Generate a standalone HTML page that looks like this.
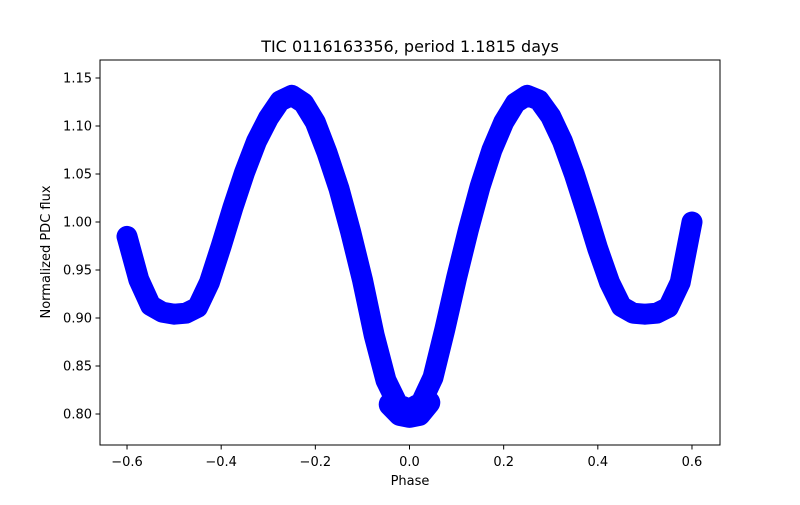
<!DOCTYPE html>
<html><head><meta charset="utf-8"><style>
body{margin:0;background:#fff;}
svg text{font-family:"DejaVu Sans","Liberation Sans",sans-serif;fill:#000;}
</style></head><body>
<svg id="chart" width="800" height="500" xmlns="http://www.w3.org/2000/svg">
<rect width="800" height="500" fill="#fff"/>
<text x="410" y="52" font-size="16" text-anchor="middle">TIC 0116163356, period 1.1815 days</text>
<g id="band"></g>
<rect x="100" y="60" width="620" height="385" fill="none" stroke="#000" stroke-width="1"/>
<g id="xt"></g><g id="yt"></g>
<text x="410" y="485" font-size="13" text-anchor="middle">Phase</text>
<text transform="translate(50,252) rotate(-90)" font-size="13" text-anchor="middle">Normalized PDC flux</text>
</svg>
<script>
const phases=[-0.6,-0.575,-0.55,-0.525,-0.5,-0.475,-0.45,-0.425,-0.4,-0.375,-0.35,-0.325,-0.3,-0.275,-0.25,-0.225,-0.2,-0.175,-0.15,-0.125,-0.1,-0.075,-0.05,-0.025,0,0.025,0.05,0.075,0.1,0.125,0.15,0.175,0.2,0.225,0.25,0.275,0.3,0.325,0.35,0.375,0.4,0.425,0.45,0.475,0.5,0.525,0.55,0.575,0.6];
const flux=[0.985,0.94,0.913,0.906,0.904,0.905,0.911,0.937,0.975,1.015,1.052,1.084,1.108,1.126,1.132,1.124,1.104,1.072,1.035,0.99,0.94,0.882,0.835,0.81,0.805,0.812,0.838,0.888,0.942,0.992,1.037,1.075,1.104,1.124,1.132,1.127,1.11,1.084,1.05,1.012,0.972,0.937,0.912,0.905,0.904,0.905,0.911,0.937,1.0];
const bottomPhases=[-0.04,-0.02,0,0.02,0.04];
const bottomFlux=[0.81,0.8,0.798,0.8,0.812];
const xTicks=[-0.6,-0.4,-0.2,0,0.2,0.4,0.6];
const yTicks=[0.80,0.85,0.90,0.95,1.00,1.05,1.10,1.15];
const NS="http://www.w3.org/2000/svg";
const xs=v=>409.5+v*470.8;
const ys=v=>414-(v-0.8)*960;
const band=document.getElementById('band');
let d=phases.map((p,i)=>(i?'L':'M')+xs(p).toFixed(1)+' '+ys(flux[i]).toFixed(1)).join(' ');
const path=document.createElementNS(NS,'path');
path.setAttribute('d',d);path.setAttribute('fill','none');path.setAttribute('stroke','#0000ff');
path.setAttribute('stroke-width','21');path.setAttribute('stroke-linejoin','round');path.setAttribute('stroke-linecap','round');


band.appendChild(path);
let d2=bottomPhases.map((p,i)=>(i?'L':'M')+xs(p).toFixed(1)+' '+ys(bottomFlux[i]).toFixed(1)).join(' ');
const p2=document.createElementNS(NS,'path');
p2.setAttribute('d',d2);p2.setAttribute('fill','none');p2.setAttribute('stroke','#0000ff');
p2.setAttribute('stroke-width','24');p2.setAttribute('stroke-linejoin','round');p2.setAttribute('stroke-linecap','round');


band.appendChild(p2);
const xt=document.getElementById('xt');
xTicks.forEach(t=>{
 const l=document.createElementNS(NS,'line');
 l.setAttribute('x1',xs(t));l.setAttribute('x2',xs(t));l.setAttribute('y1',445);l.setAttribute('y2',449.5);l.setAttribute('stroke','#000');
 
 
 xt.appendChild(l);
 const tx=document.createElementNS(NS,'text');
 tx.setAttribute('x',xs(t));tx.setAttribute('y',466);tx.setAttribute('font-size','13');tx.setAttribute('text-anchor','middle');
 tx.textContent=(t<0?'\u2212':'')+Math.abs(t).toFixed(1);
 
 
 xt.appendChild(tx);
});
const yt=document.getElementById('yt');
yTicks.forEach(t=>{
 const l=document.createElementNS(NS,'line');
 l.setAttribute('x1',95.5);l.setAttribute('x2',100);l.setAttribute('y1',ys(t));l.setAttribute('y2',ys(t));l.setAttribute('stroke','#000');
 
 
 yt.appendChild(l);
 const tx=document.createElementNS(NS,'text');
 tx.setAttribute('x',92);tx.setAttribute('y',ys(t)+4.5);tx.setAttribute('font-size','13');tx.setAttribute('text-anchor','end');
 tx.textContent=t.toFixed(2);
 
 
 yt.appendChild(tx);
});
</script>
</body></html>
